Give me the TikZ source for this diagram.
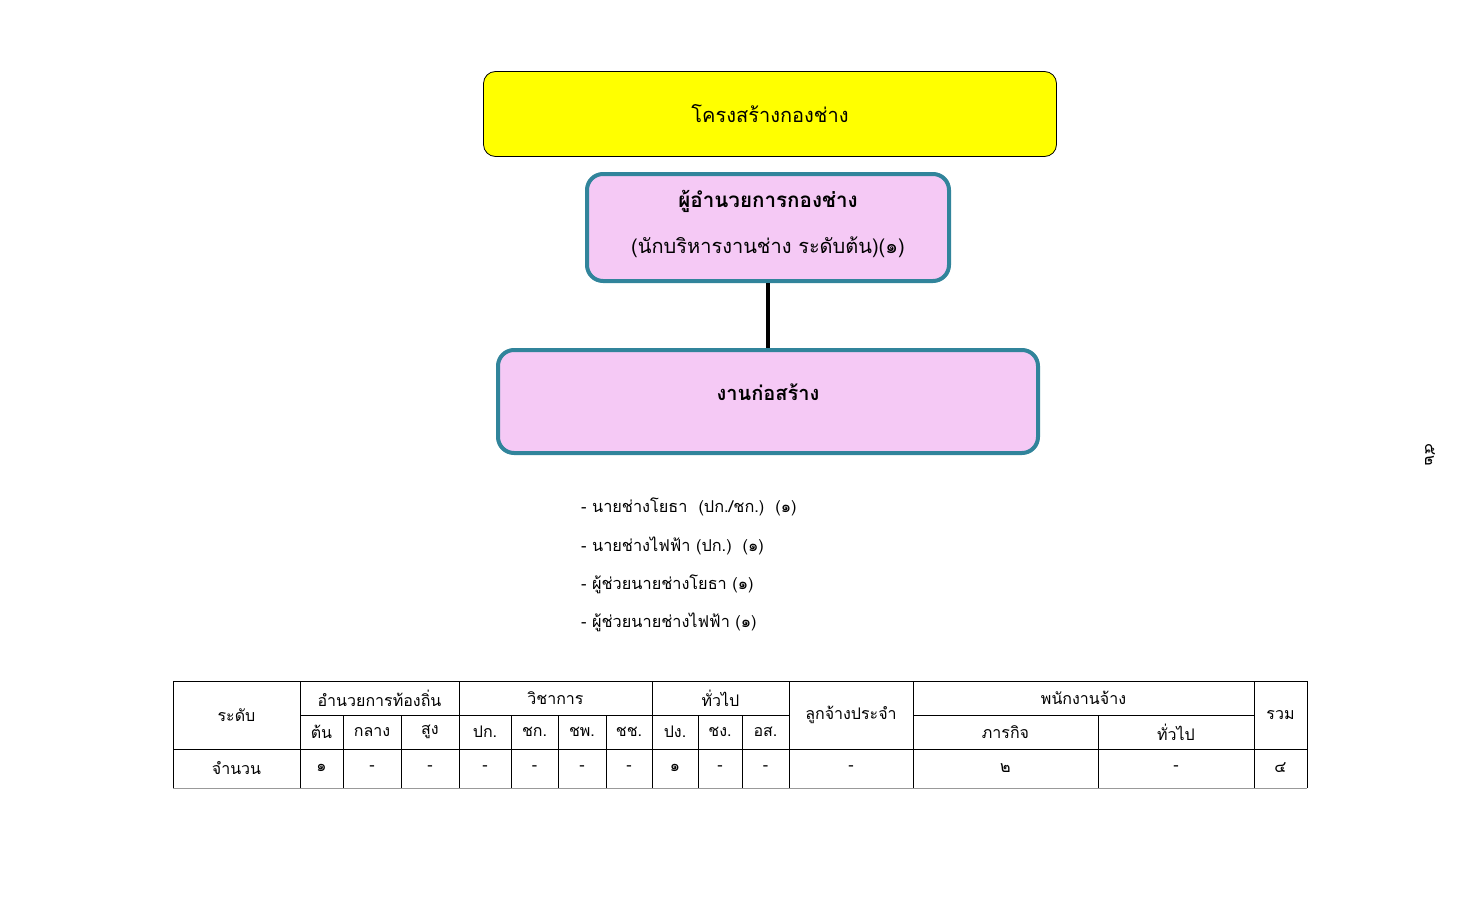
\documentclass[tikz,border=0pt]{standalone}
\usepackage{fontspec}
\newfontfamily\thai[Script=Thai]{Loma}
\usetikzlibrary{graphs, positioning}
\definecolor{yellowfill}{HTML}{FFFF00}
\definecolor{pinkfill}{HTML}{F5C9F5}
\definecolor{tealline}{HTML}{31849B}

\begin{document}
\begin{tikzpicture}[x=1pt, y=-1pt, node distance=15pt, font=\thai\fontsize{16}{19}\selectfont]
		\useasboundingbox (0,0) rectangle (1484,899);
		\tikzset{
			unitbox/.style={draw=tealline, line width=4pt, fill=pinkfill, rounded corners=16pt, align=center, font=\thai\fontsize{20}{24}\selectfont},
			cell/.style={inner sep=0pt},
		}
		\node[draw, line width=0.8pt, fill=yellowfill, rounded corners=12pt, minimum width=573pt, minimum height=85pt, font=\thai\fontsize{20}{24}\selectfont] (title) at (770,114) {โครงสร้างกองช่าง};
		\node[unitbox, minimum width=362pt, minimum height=107pt, text depth=12pt] (head) at (768,227.5) {{\fontsize{20.6}{24}\selectfont\textbf{ผู้อำนวยการกองช่าง}}\\[22pt](นักบริหารงานช่าง ระดับต้น)(๑)};
		\node[unitbox, minimum width=540pt, minimum height=103pt, text depth=18pt] (work) at (768,401.5) {\textbf{งานก่อสร้าง}};
		
		\graph[edges={line width=4pt}]{
			(head) -- (work);
		};
		
		% staff list
		\foreach \y/\t [count=\i] in {507/{- นายช่างโยธา~~(ปก./ชก.)~~(๑)}, 546/{- นายช่างไฟฟ้า (ปก.)~~(๑)}, 584/{- ผู้ช่วยนายช่างโยธา (๑)}, 622/{- ผู้ช่วยนายช่างไฟฟ้า (๑)}}
			\node[anchor=west, inner sep=0pt, font=\thai\fontsize{16.3}{20}\selectfont] (staff\i) at (581,\y) {\t};
		
		\node[rotate=-90] (pageno) at (1430,455) {๕๒};
		
		% table
		\foreach \x in {173,300,459,652,789,913,1254,1307}
			\draw (\x,681) -- (\x,788);
		\foreach \x in {343,401,511,558,606,698,742,1098}
			\draw (\x,715) -- (\x,788);
		\draw (173,681) -- (1307,681);
		\draw (300,715) -- (789,715);
		\draw (913,715) -- (1254,715);
		\draw (173,749) -- (1307,749);
		\draw[black!40] (173,788) -- (1307,788);
		
		\node[cell] (level) at (236.5,715) {ระดับ};
		\node[cell] (admin) at (379.5,698) {อำนวยการท้องถิ่น};
		\node[cell] (acad) at (555.5,698) {วิชาการ};
		\node[cell] (gen) at (720.5,698) {ทั่วไป};
		\node[cell] (perm) at (851,715) {ลูกจ้างประจำ};
		\node[cell] (emp) at (1083.5,698) {พนักงานจ้าง};
		\node[cell] (total) at (1280.5,715) {รวม};
		\foreach \x/\t [count=\i] in {321.5/ต้น, 372/กลาง, 430/สูง, 485/ปก., 534.5/ชก., 582/ชพ., 629/ชช., 675/ปง., 720/ชง., 765.5/อส., 1005.5/ภารกิจ, 1176/ทั่วไป}
			\node[cell] (sub\i) at (\x,732) {\t};
		\foreach \x/\t [count=\i] in {236.5/จำนวน, 321.5/๑, 372/-, 430/-, 485/-, 534.5/-, 582/-, 629/-, 675/๑, 720/-, 765.5/-, 851/-, 1005.5/๒, 1176/-, 1280.5/๔}
			\node[cell] (num\i) at (\x,768) {\t};
	\end{tikzpicture}
\end{document}
